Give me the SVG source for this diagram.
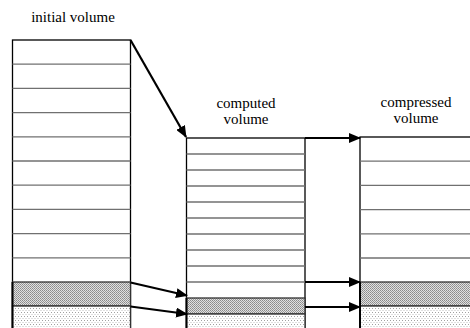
<svg xmlns="http://www.w3.org/2000/svg" width="470" height="328" viewBox="0 0 470 328">
<defs>
<style>
text{font-family:"Liberation Serif","Times New Roman","DejaVu Serif",serif;font-size:15px;fill:#000;text-anchor:middle}
.box{fill:#fff;stroke:#000;stroke-width:1.3}
.row{stroke:#707070;stroke-width:1.3}
.dark{fill:url(#checker);stroke:#333;stroke-width:1.3}
.dot{fill:url(#dots);stroke:#333;stroke-width:1.3}
.edge{fill:none;stroke:#000;stroke-width:2.2}
</style>
<pattern id="checker" width="2" height="2" patternUnits="userSpaceOnUse">
<rect width="2" height="2" fill="#e0e0e0"/>
<rect width="1" height="1" fill="#8a8a8a"/>
<rect x="1" y="1" width="1" height="1" fill="#9a9a9a"/>
</pattern>
<pattern id="dots" width="3" height="4" patternUnits="userSpaceOnUse">
<rect width="3" height="4" fill="#fff"/>
<rect width="1" height="1" fill="#a0a0a0"/>
<rect x="1.5" y="2" width="1" height="1" fill="#c0c0c0"/>
</pattern>
<marker id="arr" markerWidth="12" markerHeight="10" refX="11" refY="5" orient="auto" markerUnits="userSpaceOnUse">
<path d="M0,0 L12,5 L0,10 z" fill="#000"/>
</marker>
</defs>
<rect width="470" height="328" fill="#fff"/>

<g id="initial-volume">
<text x="73" y="22" font-family="Liberation Serif, serif">initial volume</text>
<rect class="box" x="12.5" y="40" width="118" height="300"/>
<g class="row">
<line x1="12.5" y1="64.2" x2="130.5" y2="64.2"/>
<line x1="12.5" y1="88.4" x2="130.5" y2="88.4"/>
<line x1="12.5" y1="112.6" x2="130.5" y2="112.6"/>
<line x1="12.5" y1="136.8" x2="130.5" y2="136.8"/>
<line x1="12.5" y1="161" x2="130.5" y2="161"/>
<line x1="12.5" y1="185.2" x2="130.5" y2="185.2"/>
<line x1="12.5" y1="209.4" x2="130.5" y2="209.4"/>
<line x1="12.5" y1="233.6" x2="130.5" y2="233.6"/>
<line x1="12.5" y1="257.8" x2="130.5" y2="257.8"/>
</g>
<rect class="dark" x="12.5" y="282" width="118" height="24"/>
<rect class="dot" x="12.5" y="306" width="118" height="30"/>
<line x1="12.5" y1="282" x2="12.5" y2="330" stroke="#000" stroke-width="2"/>
</g>

<g id="computed-volume">
<text x="246" y="108">computed</text>
<text x="246" y="124">volume</text>
<rect class="box" x="186.5" y="138" width="118.5" height="200"/>
<g class="row">
<line x1="186.5" y1="154" x2="305" y2="154"/>
<line x1="186.5" y1="170" x2="305" y2="170"/>
<line x1="186.5" y1="186" x2="305" y2="186"/>
<line x1="186.5" y1="202" x2="305" y2="202"/>
<line x1="186.5" y1="218" x2="305" y2="218"/>
<line x1="186.5" y1="234" x2="305" y2="234"/>
<line x1="186.5" y1="250" x2="305" y2="250"/>
<line x1="186.5" y1="266" x2="305" y2="266"/>
<line x1="186.5" y1="282" x2="305" y2="282"/>
</g>
<rect class="dark" x="186.5" y="298" width="118.5" height="16"/>
<rect class="dot" x="186.5" y="314" width="118.5" height="24"/>
<line x1="186.5" y1="298" x2="186.5" y2="330" stroke="#000" stroke-width="2"/>
</g>

<g id="compressed-volume">
<text x="416" y="107">compressed</text>
<text x="416" y="123">volume</text>
<rect class="box" x="360" y="137" width="120" height="200"/>
<g class="row">
<line x1="360" y1="161.2" x2="480" y2="161.2"/>
<line x1="360" y1="185.4" x2="480" y2="185.4"/>
<line x1="360" y1="209.6" x2="480" y2="209.6"/>
<line x1="360" y1="233.8" x2="480" y2="233.8"/>
<line x1="360" y1="258" x2="480" y2="258"/>
</g>
<rect class="dark" x="360" y="282" width="120" height="24"/>
<rect class="dot" x="360" y="306" width="120" height="30"/>
<line x1="360" y1="282" x2="360" y2="330" stroke="#000" stroke-width="2"/>
</g>

<g id="connectors">
<line class="edge" x1="130.5" y1="40" x2="186" y2="137" marker-end="url(#arr)"/>
<line class="edge" x1="130.5" y1="282.5" x2="187" y2="295.5" marker-end="url(#arr)"/>
<line class="edge" x1="130.5" y1="306.5" x2="187" y2="314" marker-end="url(#arr)"/>
<line class="edge" x1="305" y1="138" x2="360" y2="138" marker-end="url(#arr)"/>
<line class="edge" x1="305" y1="282" x2="360" y2="282" marker-end="url(#arr)"/>
<line class="edge" x1="305" y1="307" x2="360" y2="307" marker-end="url(#arr)"/>
</g>
</svg>
